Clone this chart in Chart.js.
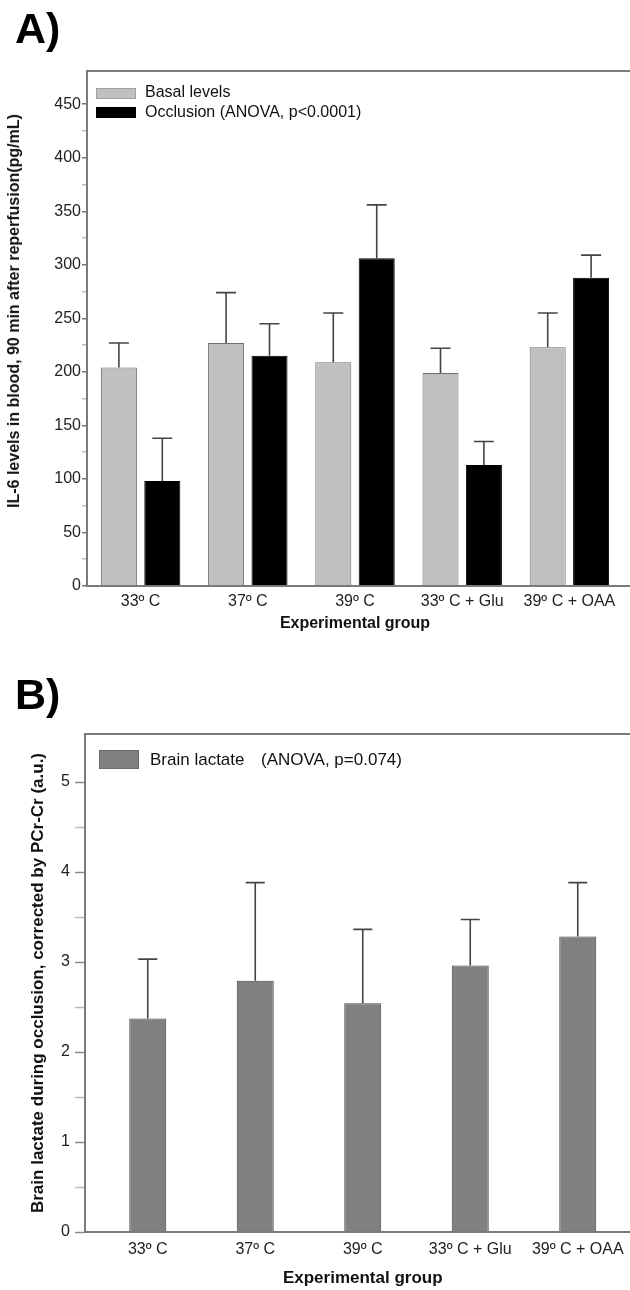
<!DOCTYPE html>
<html>
<head>
<meta charset="utf-8">
<script src="https://cdn.jsdelivr.net/npm/chart.js@4.4.1/dist/chart.umd.min.js"></script>
<style>
  html, body { margin: 0; padding: 0; background: #fff; }
  body { width: 630px; height: 1290px; position: relative; overflow: hidden; font-family: 'Liberation Sans', Arial, sans-serif; }
  .panel { position: absolute; left: 0; width: 630px; height: 645px; overflow: hidden; }
  .panel .box { position: absolute; left: 0; top: 0; width: 640px; height: 645px; }
  #panelA { top: 0; }
  #panelB { top: 645px; }
  .tag { position: absolute; font-weight: bold; font-size: 43px; line-height: 1; color: #000; }
  .lg { position: absolute; white-space: pre; color: #111; }
  .sw { position: absolute; box-sizing: border-box; }
  .ytitle { position: absolute; white-space: nowrap; font-weight: bold; color: #111;
            transform: translate(-50%, -50%) rotate(-90deg); line-height: 1; }
</style>
</head>
<body>
<div class="panel" id="panelA"><div class="box"><canvas id="chartA"></canvas></div></div>
<div class="panel" id="panelB"><div class="box"><canvas id="chartB"></canvas></div></div>

<div class="tag" style="left:15px; top:7px;">A)</div>
<div class="tag" style="left:15px; top:673px;">B)</div>

<!-- y title A (sits a little above the axis centre in the original) -->
<div class="ytitle" style="left:14px; top:311px; font-size:16px;">IL-6 levels in blood, 90 min after reperfusion(pg/mL)</div>

<!-- legend A -->
<div class="sw" style="left:96px; top:88px; width:40px; height:11px; background:#c0c0c0; border:1px solid #a0a0a0;"></div>
<div class="sw" style="left:96px; top:107px; width:40px; height:11px; background:#000;"></div>
<div class="lg" style="left:145px; top:83px; font-size:16px; line-height:18px;">Basal levels</div>
<div class="lg" style="left:145px; top:103px; font-size:16px; line-height:18px;">Occlusion (ANOVA, p&lt;0.0001)</div>

<!-- legend B -->
<div class="sw" style="left:99px; top:750px; width:40px; height:19px; background:#808080; border:1px solid #6a6a6a;"></div>
<div class="lg" style="left:150px; top:750px; font-size:17px; line-height:20px;">Brain lactate</div>
<div class="lg" style="left:261px; top:750px; font-size:17px; line-height:20px;">(ANOVA, p=0.074)</div>

<script>
// ─── Data ─────────────────────────────────────────
const groups = ['33º C', '37º C', '39º C', '33º C + Glu', '39º C + OAA'];

// Panel A — IL-6 (pg/mL)
const basalLevels = [204, 227, 209, 199, 223];
const basalErr    = [23, 47, 46, 23, 32];
const occlusion   = [98, 215, 306, 113, 288];
const occlusionErr = [40, 30, 50, 22, 21];

// Panel B — brain lactate (a.u.)
const lactate    = [2.37, 2.79, 2.54, 2.96, 3.28];
const lactateErr = [0.66, 1.09, 0.82, 0.51, 0.60];

const FONT = "'Liberation Sans', Arial, sans-serif";
Chart.defaults.font.family = FONT;
Chart.defaults.color = '#222';

// ─── Plot frame (open on the right, image is cropped there) ───
// opts.axisX lets the y axis line sit a bit left of the first category
const framePlugin = {
  id: 'frame',
  afterDraw(chart, args, opts) {
    const { ctx, chartArea: a, width } = chart;
    const x0 = opts.axisX != null ? opts.axisX : a.left;
    ctx.save();
    if (opts.tickLength) {
      const y = chart.scales.y;
      ctx.lineWidth = 1.5;
      y.ticks.forEach(t => {
        const py = Math.round(y.getPixelForValue(t.value)) + 0.5;
        ctx.strokeStyle = Number.isInteger(t.value) ? '#888' : '#bbb';
        ctx.beginPath();
        ctx.moveTo(x0 - opts.tickLength, py);
        ctx.lineTo(x0, py);
        ctx.stroke();
      });
    }
    ctx.strokeStyle = '#7a7a7a';
    ctx.lineWidth = 2;
    ctx.beginPath();
    ctx.moveTo(width, a.top);
    ctx.lineTo(x0, a.top);
    ctx.lineTo(x0, a.bottom);
    ctx.lineTo(width, a.bottom);
    ctx.stroke();
    ctx.restore();
  }
};

// ─── Upper error bars ─────────────────────────────
const errorBarPlugin = {
  id: 'errorBars',
  afterDatasetsDraw(chart, args, opts) {
    const { ctx } = chart;
    const yScale = chart.scales.y;
    const cap = opts.cap || 20;
    ctx.save();
    ctx.strokeStyle = '#444';
    ctx.lineWidth = 1.6;
    chart.data.datasets.forEach((ds, i) => {
      if (!ds.errors) return;
      chart.getDatasetMeta(i).data.forEach((bar, j) => {
        const top = yScale.getPixelForValue(ds.data[j] + ds.errors[j]);
        ctx.beginPath();
        ctx.moveTo(bar.x, bar.y);
        ctx.lineTo(bar.x, top);
        ctx.moveTo(bar.x - cap / 2, top);
        ctx.lineTo(bar.x + cap / 2, top);
        ctx.stroke();
      });
    });
    ctx.restore();
  }
};

// ─── Panel A ──────────────────────────────────────
new Chart(document.getElementById('chartA'), {
  type: 'bar',
  data: {
    labels: groups,
    datasets: [
      {
        label: 'Basal levels',
        data: basalLevels,
        errors: basalErr,
        backgroundColor: '#c0c0c0',
        borderColor: '#6e6e6e',
        borderWidth: 1,
        categoryPercentage: 0.81,
        barPercentage: 0.83,
      },
      {
        label: 'Occlusion (ANOVA, p<0.0001)',
        data: occlusion,
        errors: occlusionErr,
        backgroundColor: '#000',
        borderColor: '#000',
        borderWidth: 1,
        categoryPercentage: 0.81,
        barPercentage: 0.83,
      },
    ],
  },
  options: {
    responsive: true,
    maintainAspectRatio: false,
    animation: false,
    layout: { padding: { top: 71, right: 17, left: 0, bottom: 0 } },
    plugins: { legend: { display: false }, tooltip: { enabled: false }, errorBars: { cap: 20 } },
    scales: {
      x: {
        afterFit: s => { s.height = 59; },
        grid: { display: false, drawTicks: false },
        border: { display: false },
        ticks: { font: { size: 16 }, color: '#222', padding: 6, maxRotation: 0, autoSkip: false },
        title: { display: true, text: 'Experimental group', color: '#111', font: { size: 16, weight: 'bold' }, padding: { top: 0, bottom: 12 } },
      },
      y: {
        min: 0,
        max: 481,
        afterFit: s => { s.width = 87; },
        afterBuildTicks: s => { s.ticks = s.ticks.filter(t => t.value % 25 === 0); },
        grid: {
          drawOnChartArea: false,
          tickLength: 5,
          lineWidth: 1.5,
          color: c => (c.tick && c.tick.value % 50 === 0 ? '#777' : '#bbb'),
        },
        border: { display: false },
        ticks: { stepSize: 25, autoSkip: false, padding: 1, font: { size: 16 }, color: '#222',
                 callback: v => (v % 50 === 0 ? v : '') },
      },
    },
  },
  plugins: [framePlugin, errorBarPlugin],
});

// ─── Panel B ──────────────────────────────────────
new Chart(document.getElementById('chartB'), {
  type: 'bar',
  data: {
    labels: groups,
    datasets: [{
      label: 'Brain lactate (ANOVA, p=0.074)',
      data: lactate,
      errors: lactateErr,
      backgroundColor: '#808080',
      borderColor: '#444',
      borderWidth: 1,
      categoryPercentage: 1,
      barPercentage: 0.344,
    }],
  },
  options: {
    responsive: true,
    maintainAspectRatio: false,
    animation: false,
    layout: { padding: { top: 89, right: 8.5, left: 0, bottom: 0 } },
    plugins: {
      legend: { display: false },
      tooltip: { enabled: false },
      errorBars: { cap: 19 },
      frame: { axisX: 85, tickLength: 10 },
    },
    scales: {
      x: {
        afterFit: s => { s.height = 58; },
        grid: { display: false, drawTicks: false },
        border: { display: false },
        ticks: { font: { size: 16 }, color: '#222', padding: 8, maxRotation: 0, autoSkip: false },
        title: { display: true, text: 'Experimental group', color: '#111', font: { size: 17, weight: 'bold' }, padding: { top: 0, bottom: 1 } },
      },
      y: {
        min: 0,
        max: 5.53,
        afterFit: s => { s.width = 94; },
        afterBuildTicks: s => { s.ticks = s.ticks.filter(t => Math.abs(t.value * 2 - Math.round(t.value * 2)) < 1e-6); },
        grid: { display: false, drawTicks: false },
        border: { display: false },
        ticks: { stepSize: 0.5, autoSkip: false, padding: 24, font: { size: 16 }, color: '#222',
                 callback: v => (Number.isInteger(v) ? v : '') },
        title: { display: true, text: 'Brain lactate during occlusion, corrected by PCr-Cr (a.u.)', color: '#111',
                 font: { size: 17, weight: 'bold' }, padding: { top: 28, bottom: 0 } },
      },
    },
  },
  plugins: [framePlugin, errorBarPlugin],
});
</script>
</body>
</html>
